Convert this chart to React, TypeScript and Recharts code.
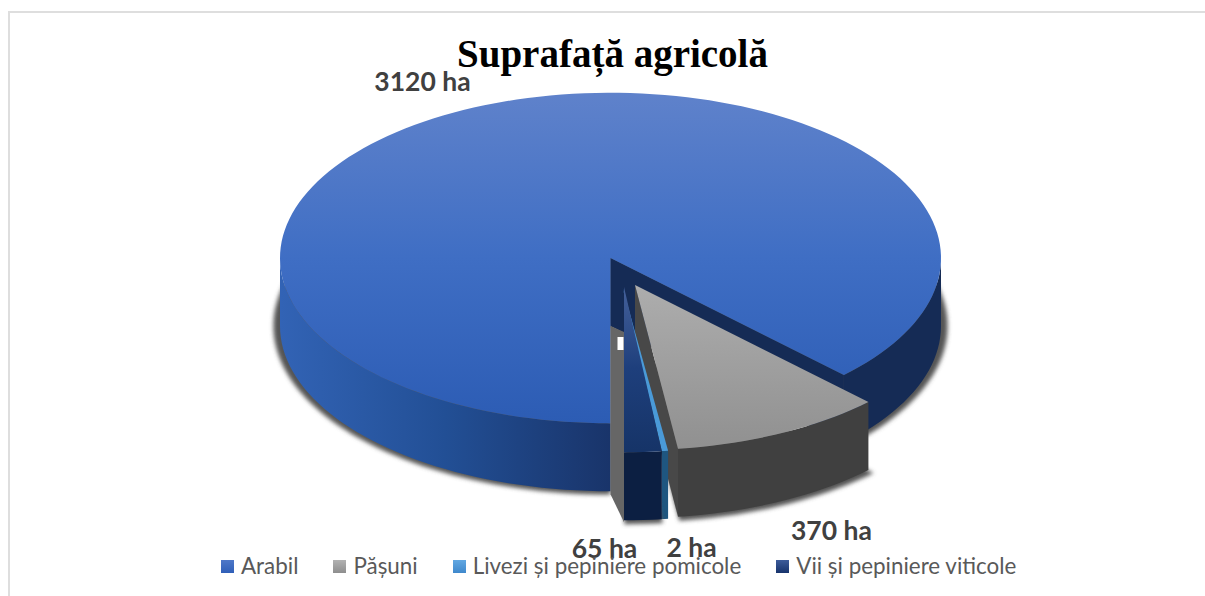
import { PieChart, Pie, Legend } from "recharts";

const CATEGORIES = ["Arabil", "Pășuni", "Livezi și pepiniere pomicole", "Vii și pepiniere viticole"];
const VALUES = [3120, 370, 2, 65];
const UNIT = "ha";

const chartData = CATEGORIES.map((name, i) => ({ name, value: VALUES[i] }));

// legend swatch gradients, same order as the slices
const SWATCHES: Record<string, [string, string]> = {
  Arabil: ["#4f78c8", "#2f5fb8"],
  "Pășuni": ["#b2b2b2", "#8e8e8e"],
  "Livezi și pepiniere pomicole": ["#62a8e2", "#3f88cc"],
  "Vii și pepiniere viticole": ["#3d5c9a", "#17336c"],
};

const TILT = 0.5;
const DEPTH = 68;

type SliceStyle = {
  dx: number;
  dy: number;
  top: string;
  side: string;
  wall: string;
  shiftStart?: number;
  shiftEnd?: number;
  labelX: number;
  labelY: number;
};

const SLICE_STYLES: Record<string, SliceStyle> = {
  Arabil: { dx: 0, dy: 0, top: "url(#arabilTop)", side: "url(#arabilSide)", wall: "#152b55", shiftEnd: -0.7, labelX: -188, labelY: -177 },
  "Pășuni": { dx: 24.5, dy: 27, top: "url(#pasuniTop)", side: "#404040", wall: "#484848", shiftStart: -0.7, shiftEnd: -0.7, labelX: 221, labelY: 272 },
  "Vii și pepiniere viticole": { dx: 13.5, dy: 29, top: "url(#viiTop)", side: "#0c1f42", wall: "#1a3568", labelX: -6, labelY: 290 },
  // the real slice is thinner than a pixel, so it is opened up a little to stay visible
  "Livezi și pepiniere pomicole": { dx: 12, dy: 29, top: "#4a9ad8", side: "#1f5680", wall: "#1f5680", shiftStart: -1.15, shiftEnd: -0.25, labelX: 81, labelY: 289 },
};

function point(cx: number, cy: number, r: number, t: number) {
  const a = (t * Math.PI) / 180;
  return [cx + r * Math.cos(a), cy + r * TILT * Math.sin(a)];
}

function arc(cx: number, cy: number, r: number, a: number, b: number) {
  const pts: number[][] = [];
  const n = Math.max(2, Math.ceil((b - a) / 2));
  for (let i = 0; i <= n; i++) pts.push(point(cx, cy, r, a + ((b - a) * i) / n));
  return pts;
}

const toPath = (pts: number[][]) => "M" + pts.map((p) => p[0].toFixed(2) + " " + p[1].toFixed(2)).join("L") + "Z";

function Slice(props: any) {
  const { cx, cy, outerRadius: r, startAngle, endAngle, name } = props;
  const s = SLICE_STYLES[name];
  const a = -startAngle + (s.shiftStart ?? 0);
  const b = -endAngle + (s.shiftEnd ?? 0);
  const x = cx + s.dx;
  const y = cy + s.dy;

  const topArc = arc(x, y, r, a, b);
  const top = toPath([[x, y], ...topArc]);
  const bottomFace = toPath([[x, y + DEPTH], ...arc(x, y + DEPTH, r, a, b)]);

  // only the part of the rim that faces the viewer gets a side wall
  const sides: string[] = [];
  [[0, 180], [360, 540]].forEach(([lo, hi]) => {
    const p = Math.max(a, lo);
    const q = Math.min(b, hi);
    if (q > p) {
      const upper = arc(x, y, r, p, q);
      const lower = arc(x, y + DEPTH, r, p, q).reverse();
      sides.push(toPath([...upper, ...lower]));
    }
  });

  const end = point(x, y, r, b);
  const wall = toPath([[x, y], end, [end[0], end[1] + DEPTH], [x, y + DEPTH]]);
  const isVii = name === CATEGORIES[3];
  const isLivezi = name === CATEGORIES[2];

  return (
    <g>
      <g filter="url(#softShadow)" transform={`translate(${cx} ${cy + DEPTH}) scale(1.02) translate(${-cx} ${-cy - DEPTH})`}>
        {!isLivezi && <path d={bottomFace} fill="#555555" />}
      </g>
      {isVii && (
        <g>
          <path
            d={toPath([[cx, cy + DEPTH], [x, y + DEPTH - 23], [x, y + r * TILT + DEPTH + 2], [cx, cy + r * TILT + DEPTH + 3]])}
            fill="#666666"
          />
          <rect x={cx + 7} y={cy + 79} width={6} height={13} fill="#ffffff" />
        </g>
      )}
      {!isVii && !isLivezi && <path d={wall} fill={s.wall} />}
      {sides.map((d, i) => (
        <path key={i} d={d} fill={s.side} />
      ))}
      <path d={top} fill={s.top} />
    </g>
  );
}

function SliceLabel(props: any) {
  const { cx, cy, value, name } = props;
  const s = SLICE_STYLES[name];
  return (
    <text
      x={cx + s.labelX}
      y={cy + s.labelY}
      textAnchor="middle"
      dominantBaseline="central"
      fontFamily="Lato, 'Open Sans', sans-serif"
      fontWeight={700}
      fontSize={26.5}
      fill="#404040"
    >
      {value} {UNIT}
    </text>
  );
}

function LegendRow() {
  return (
    <div
      style={{
        display: "flex",
        gap: 35,
        fontFamily: "Lato, 'Open Sans', sans-serif",
        fontSize: 22.4,
        color: "#595959",
        whiteSpace: "nowrap",
        lineHeight: "26px",
      }}
    >
      {CATEGORIES.map((c) => (
        <div key={c} style={{ display: "flex", alignItems: "center", gap: 7 }}>
          <span
            style={{
              width: 13,
              height: 13,
              display: "inline-block",
              background: `linear-gradient(${SWATCHES[c][0]}, ${SWATCHES[c][1]})`,
            }}
          />
          {c}
        </div>
      ))}
    </div>
  );
}

export default function App() {
  return (
    <div style={{ position: "absolute", left: 0, top: 0, width: 1205, height: 596, background: "#fff", overflow: "hidden" }}>
      <div
        style={{
          position: "absolute",
          left: 8,
          top: 11,
          right: 0,
          bottom: -4,
          borderTop: "2px solid #dedede",
          borderLeft: "2px solid #dedede",
        }}
      />
      <PieChart
        width={1205}
        height={596}
        margin={{ top: 0, right: 0, bottom: 0, left: 0 }}
        style={{ position: "absolute", left: 0, top: 0 }}
      >
        <defs>
          <linearGradient id="arabilTop" gradientUnits="userSpaceOnUse" x1="0" y1="92" x2="0" y2="424">
            <stop offset="0%" stopColor="#5f82cb" />
            <stop offset="50%" stopColor="#3f6ec4" />
            <stop offset="100%" stopColor="#2c5cb4" />
          </linearGradient>
          <linearGradient id="arabilSide" gradientUnits="userSpaceOnUse" x1="280" y1="0" x2="941" y2="0">
            <stop offset="0%" stopColor="#3263b5" />
            <stop offset="25%" stopColor="#224f95" />
            <stop offset="50%" stopColor="#19346a" />
            <stop offset="55%" stopColor="#152b55" />
            <stop offset="100%" stopColor="#152b55" />
          </linearGradient>
          <linearGradient id="pasuniTop" gradientUnits="userSpaceOnUse" x1="0" y1="285" x2="0" y2="450">
            <stop offset="0%" stopColor="#adadad" />
            <stop offset="100%" stopColor="#909090" />
          </linearGradient>
          <linearGradient id="viiTop" gradientUnits="userSpaceOnUse" x1="0" y1="287" x2="0" y2="450">
            <stop offset="0%" stopColor="#44609a" />
            <stop offset="50%" stopColor="#1e3f7c" />
            <stop offset="100%" stopColor="#163468" />
          </linearGradient>
          <filter id="softShadow" x="-10%" y="-10%" width="120%" height="120%">
            <feGaussianBlur stdDeviation="2" />
          </filter>
        </defs>
        <text
          x={612.5}
          y={67}
          textAnchor="middle"
          fontFamily="'Liberation Serif', serif"
          fontWeight={700}
          fontSize={39}
          fill="#000000"
        >
          Suprafață agricolă
        </text>
        <Pie
          data={chartData}
          dataKey="value"
          nameKey="name"
          cx={610.5}
          cy={258}
          outerRadius={330.5}
          startAngle={-90}
          endAngle={-450}
          paddingAngle={0}
          stroke="none"
          shape={Slice}
          label={SliceLabel}
          labelLine={false}
          isAnimationActive={false}
        />
        <Legend
          content={<LegendRow />}
          wrapperStyle={{ left: 221, top: 553, width: "auto" }}
        />
      </PieChart>
    </div>
  );
}
